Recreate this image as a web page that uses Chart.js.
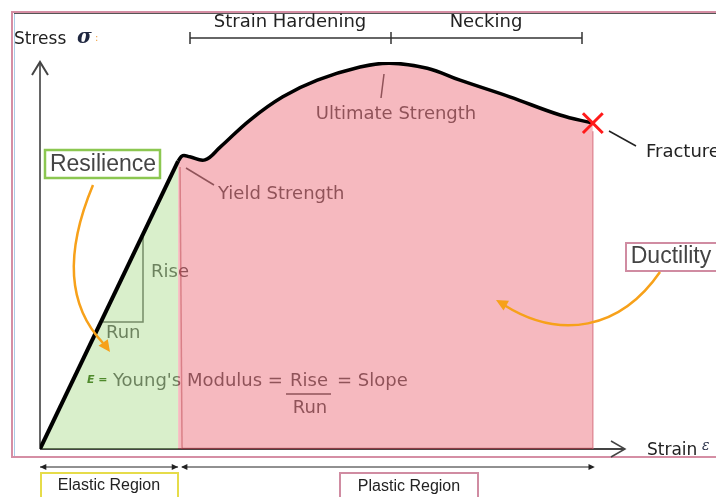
<!DOCTYPE html>
<html>
<head>
<meta charset="utf-8">
<script src="https://cdn.jsdelivr.net/npm/chart.js"></script>
<style>
  html, body { margin: 0; padding: 0; background: #fff; }
  #wrap { width: 716px; height: 497px; }
</style>
</head>
<body>
<div id="wrap"><canvas id="chart" width="716" height="497"></canvas></div>
<script>
// strain / stress in arbitrary units (0..100 on both axes)
const elasticStrain = [0, 23.6]
const elasticStress = [0, 74.4]
const plasticStrain = [23.6, 24.4, 25.6, 28.2, 30.8, 35.9, 41.5, 47.4, 54.7, 59.8, 66.2, 71.8, 80.3, 88.9, 94.5]
const plasticStress = [74.4, 75.8, 75.5, 74.7, 78.0, 85.0, 91.0, 95.3, 98.7, 99.7, 98.4, 95.3, 91.0, 86.3, 84.2]
const fractureStrain = [94.5]
const fractureStress = [84.2]

const toPoints = (xs, ys) => xs.map((x, i) => ({ x: x, y: ys[i] }))
const elasticPts = toPoints(elasticStrain, elasticStress)
const plasticPts = toPoints(plasticStrain, plasticStress)

const FONT = '"DejaVu Sans", sans-serif'
const ARIAL = '"Liberation Sans", Arial, sans-serif'

function line(ctx, pts, color, width) {
    ctx.save()
    ctx.strokeStyle = color
    ctx.lineWidth = width
    ctx.beginPath()
    pts.forEach((p, i) => i ? ctx.lineTo(p[0], p[1]) : ctx.moveTo(p[0], p[1]))
    ctx.stroke()
    ctx.restore()
}
function text(ctx, str, x, y, font, color, align) {
    ctx.save()
    ctx.font = font
    ctx.fillStyle = color
    ctx.textAlign = align || 'left'
    ctx.textBaseline = 'middle'
    ctx.fillText(str, x, y)
    ctx.restore()
}
function tri(ctx, tip, dir, size, color) {
    // filled arrow head, dir in radians
    ctx.save()
    ctx.fillStyle = color
    ctx.beginPath()
    ctx.moveTo(tip[0], tip[1])
    ctx.lineTo(tip[0] - size * Math.cos(dir - 0.45), tip[1] - size * Math.sin(dir - 0.45))
    ctx.lineTo(tip[0] - size * Math.cos(dir + 0.45), tip[1] - size * Math.sin(dir + 0.45))
    ctx.closePath()
    ctx.fill()
    ctx.restore()
}

// labels & axes drawn below the translucent fills
const underLayer = {
    id: 'underLayer',
    beforeDatasetsDraw(chart) {
        const ctx = chart.ctx
        const xs = chart.scales.x, ys = chart.scales.y
        const x0 = xs.getPixelForValue(0), y0 = ys.getPixelForValue(0)
        const xEnd = xs.getPixelForValue(100), yEnd = ys.getPixelForValue(100)

        // frame
        ctx.save()
        ctx.strokeStyle = '#d58ea4'
        ctx.lineWidth = 2
        ctx.strokeRect(12, 12, 720, 445)
        ctx.restore()
        line(ctx, [[14.5, 14], [14.5, 456]], '#a9cbe6', 1)
        line(ctx, [[14, 13.5], [716, 13.5]], '#555', 1)

        // y axis
        line(ctx, [[x0, y0], [x0, yEnd]], '#666', 2)
        line(ctx, [[x0 - 8, yEnd + 13], [x0, yEnd], [x0 + 8, yEnd + 13]], '#444', 2)
        // x axis
        line(ctx, [[x0, y0], [xEnd, y0]], '#444', 2)
        line(ctx, [[xEnd - 14, y0 - 8], [xEnd, y0], [xEnd - 14, y0 + 8]], '#444', 1.5)

        // rise / run triangle
        line(ctx, [[143, 237], [143, 322], [103, 322]], '#666', 1.5)
        text(ctx, 'Rise', 151, 272, '18px ' + FONT, '#555')
        text(ctx, 'Run', 106, 333, '18px ' + FONT, '#555')

        // young's modulus
        text(ctx, 'Young\'s Modulus =', 113, 381, '18px ' + FONT, '#555')
        text(ctx, 'Rise', 290, 381, '18px ' + FONT, '#555')
        line(ctx, [[286, 394], [331, 394]], '#555', 1.5)
        text(ctx, 'Run', 310, 408, '18px ' + FONT, '#555', 'center')
        text(ctx, '= Slope', 337, 381, '18px ' + FONT, '#555')

        // yield / ultimate
        line(ctx, [[186, 168], [214, 185]], '#555', 1.5)
        text(ctx, 'Yield Strength', 218, 194, '18px ' + FONT, '#555')
        line(ctx, [[384, 74], [381, 98]], '#555', 1.5)
        text(ctx, 'Ultimate Strength', 396, 114, '18px ' + FONT, '#555', 'center')
    }
}

// annotations on top of everything
const overLayer = {
    id: 'overLayer',
    afterDraw(chart) {
        const ctx = chart.ctx
        const xs = chart.scales.x
        const x0 = xs.getPixelForValue(0)
        const xYield = xs.getPixelForValue(elasticStrain[1])
        const xFrac = xs.getPixelForValue(fractureStrain[0])

        // stress / strain labels
        text(ctx, 'Stress', 14, 40, '17px ' + FONT, '#222')
        text(ctx, 'σ', 77, 38, 'italic bold 20px "DejaVu Serif", serif', '#1f2740')
        text(ctx, ':', 95, 38, '10px ' + FONT, '#f0a040')
        text(ctx, 'Strain', 647, 451, '17px ' + FONT, '#222')
        text(ctx, 'ε', 702, 446, 'italic 14px "DejaVu Serif", serif', '#1f2740')

        // phase brackets
        const b = 38
        line(ctx, [[190, b], [582, b]], '#333', 1.5)
        ;[190, 391, 582].forEach(px => line(ctx, [[px, b - 6], [px, b + 6]], '#333', 1.5))
        text(ctx, 'Strain Hardening', 290, 22, '18px ' + FONT, '#222', 'center')
        text(ctx, 'Necking', 486, 22, '18px ' + FONT, '#222', 'center')

        // fracture
        line(ctx, [[609, 131], [636, 146]], '#222', 1.5)
        text(ctx, 'Fracture', 646, 152, '18px ' + FONT, '#222')

        // E =
        text(ctx, 'E =', 87, 380, 'italic bold 11px ' + FONT, '#4f8a2c')

        // boxes
        ctx.save()
        ctx.lineWidth = 2.5
        ctx.strokeStyle = '#8cc751'
        ctx.fillStyle = '#fff'
        ctx.fillRect(45, 150, 115, 28)
        ctx.strokeRect(45, 150, 115, 28)
        ctx.strokeStyle = '#d08ca2'
        ctx.lineWidth = 2
        ctx.fillRect(626, 243, 95, 28)
        ctx.strokeRect(626, 243, 95, 28)
        ctx.restore()
        text(ctx, 'Resilience', 103, 165, '23px ' + ARIAL, '#444', 'center')
        text(ctx, 'Ductility', 671, 257, '23px ' + ARIAL, '#444', 'center')

        // orange arrows
        ctx.save()
        ctx.strokeStyle = '#f7a11a'
        ctx.lineWidth = 2.5
        ctx.beginPath()
        ctx.moveTo(93, 185)
        ctx.bezierCurveTo(70, 240, 62, 300, 103, 343)
        ctx.stroke()
        ctx.beginPath()
        ctx.moveTo(660, 272)
        ctx.bezierCurveTo(620, 330, 560, 340, 504, 305)
        ctx.stroke()
        ctx.restore()
        tri(ctx, [110, 352], 0.95, 13, '#f7a11a')
        tri(ctx, [496, 300], Math.PI + 0.5, 13, '#f7a11a')

        // bottom regions
        const ya = 467
        line(ctx, [[x0, ya], [xYield, ya]], '#222', 1)
        line(ctx, [[xYield + 4, ya], [xFrac, ya]], '#222', 1)
        tri(ctx, [x0, ya], Math.PI, 7, '#222')
        tri(ctx, [xYield, ya], 0, 7, '#222')
        tri(ctx, [xYield + 3, ya], Math.PI, 7, '#222')
        tri(ctx, [xFrac + 2, ya], 0, 7, '#222')

        ctx.save()
        ctx.lineWidth = 2
        ctx.strokeStyle = '#e6dc4a'
        ctx.strokeRect(41, 473, 137, 30)
        ctx.strokeStyle = '#d08ca2'
        ctx.strokeRect(340, 473, 138, 30)
        ctx.restore()
        text(ctx, 'Elastic Region', 109, 486, '16px ' + ARIAL, '#222', 'center')
        text(ctx, 'Plastic Region', 409, 487, '16px ' + ARIAL, '#222', 'center')
    }
}

// plastic fill edges (darker outline on the left / right sides and bottom)
const edgeLayer = {
    id: 'edgeLayer',
    afterDatasetsDraw(chart) {
        const ctx = chart.ctx
        const xs = chart.scales.x, ys = chart.scales.y
        const y0 = ys.getPixelForValue(0)
        const xl = xs.getPixelForValue(plasticStrain[0]), yl = ys.getPixelForValue(plasticStress[0])
        const xr = xs.getPixelForValue(fractureStrain[0]), yr = ys.getPixelForValue(fractureStress[0])
        line(ctx, [[xl + 2, yl + 6], [xl + 4, y0]], 'rgba(190,70,80,0.5)', 1.5)
        line(ctx, [[xr, yr + 8], [xr, y0]], 'rgba(215,110,125,0.7)', 1.5)
        line(ctx, [[xl + 4, y0 - 0.5], [xr, y0 - 0.5]], 'rgba(150,50,60,0.5)', 1.5)
    }
}

const config = {
    type: 'scatter',
    data: {
        datasets: [
            {
                label: 'elastic area',
                data: elasticPts,
                showLine: true,
                fill: 'origin',
                backgroundColor: 'rgba(150,210,110,0.36)',
                borderWidth: 0,
                pointRadius: 0,
                order: 6
            },
            {
                label: 'plastic area',
                data: plasticPts,
                showLine: true,
                tension: 0.4,
                fill: 'origin',
                backgroundColor: 'rgba(232,80,95,0.4)',
                borderWidth: 0,
                pointRadius: 0,
                order: 5
            },
            {
                label: 'elastic line',
                data: elasticPts,
                showLine: true,
                borderColor: '#000',
                borderWidth: 4,
                pointRadius: 0,
                order: 2
            },
            {
                label: 'curve',
                data: plasticPts,
                showLine: true,
                tension: 0.4,
                borderColor: '#000',
                borderWidth: 3.5,
                pointRadius: 0,
                order: 2
            },
            {
                label: 'fracture',
                data: toPoints(fractureStrain, fractureStress),
                pointStyle: 'crossRot',
                pointRadius: 14,
                borderColor: '#ff1a1a',
                borderWidth: 3,
                order: 1
            }
        ]
    },
    options: {
        responsive: false,
        animation: false,
        layout: { padding: { left: 40, right: 91, top: 62, bottom: 48 } },
        scales: {
            x: { type: 'linear', min: 0, max: 100, display: false },
            y: { type: 'linear', min: 0, max: 100, display: false }
        },
        plugins: {
            legend: { display: false },
            tooltip: { enabled: false }
        }
    },
    plugins: [underLayer, edgeLayer, overLayer]
}

new Chart(document.getElementById('chart'), config)
</script>
</body>
</html>
